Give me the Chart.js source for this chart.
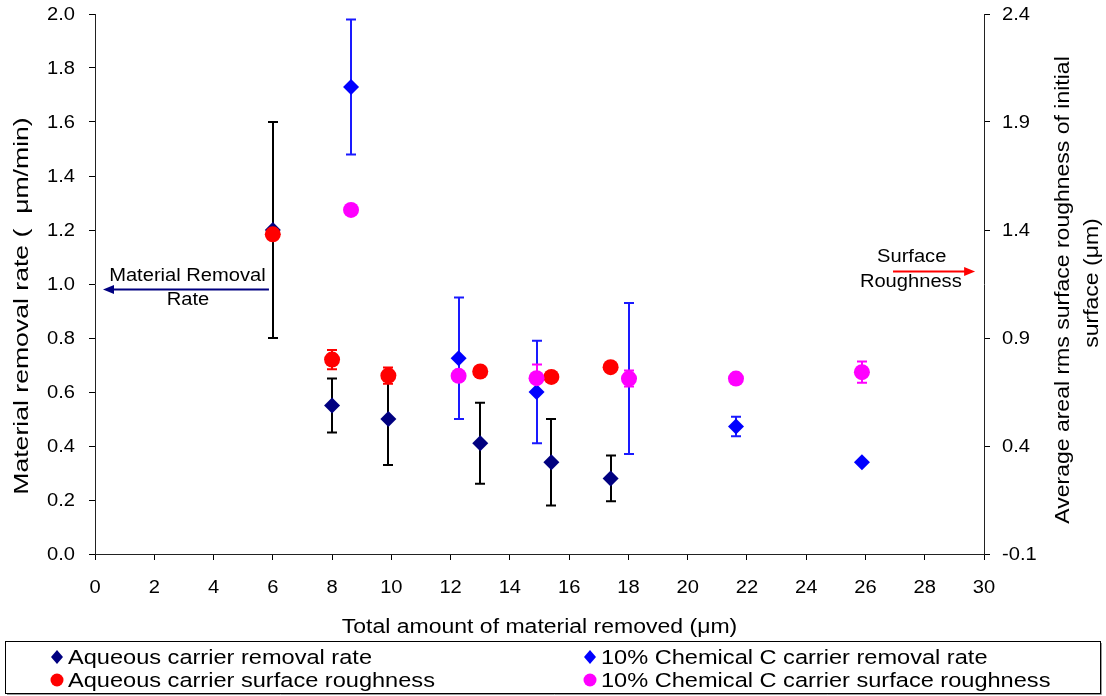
<!DOCTYPE html>
<html>
<head>
<meta charset="utf-8">
<script src="https://cdn.jsdelivr.net/npm/chart.js@4.4.0/dist/chart.umd.min.js"></script>
<style>
  html, body { margin: 0; padding: 0; background: #fff; }
</style>
</head>
<body>
<canvas id="c" width="1106" height="696"></canvas>
<script>
"use strict";

// ---------- data ----------
const X_TICKS = [0, 2, 4, 6, 8, 10, 12, 14, 16, 18, 20, 22, 24, 26, 28, 30];
const Y_TICKS = [0, 0.2, 0.4, 0.6, 0.8, 1.0, 1.2, 1.4, 1.6, 1.8, 2.0];
const Y2_TICKS = [-0.1, 0.4, 0.9, 1.4, 1.9, 2.4];

// aqueous carrier
const aqX = [6.0, 8.0, 9.9, 13.0, 15.4, 17.4];
const aqRate = [1.20, 0.55, 0.50, 0.41, 0.34, 0.28];
const aqRateErr = [0.40, 0.10, 0.17, 0.15, 0.16, 0.085];
const aqRough = [1.38, 0.80, 0.726, 0.745, 0.72, 0.765];
const aqRoughErr = [0, 0.045, 0.038, 0, 0, 0];

// 10% chemical C carrier
const chemX = [8.64, 12.27, 14.9, 18.02, 21.63, 25.88];
const chemRate = [1.73, 0.725, 0.60, 0.65, 0.472, 0.34];
const chemRateErr = [0.25, 0.225, 0.19, 0.28, 0.036, 0];
const chemRough = [1.493, 0.725, 0.714, 0.712, 0.712, 0.742];
const chemRoughErr = [0, 0, 0.063, 0.037, 0, 0.049];

const LEGEND = [
  { text: "Aqueous carrier removal rate", color: "#000080", shape: "diamond" },
  { text: "10% Chemical C carrier removal rate", color: "#0000ff", shape: "diamond" },
  { text: "Aqueous carrier surface roughness", color: "#ff0000", shape: "circle" },
  { text: "10% Chemical C carrier surface roughness", color: "#ff00ff", shape: "circle" },
];

const FONT = "Liberation Sans, Arial, sans-serif";
const SX = 1.15; // reference text is a bit wide

const pts = (xs, ys) => xs.map((x, i) => ({ x: x, y: ys[i] }));

function text(ctx, str, x, y, align, size, rot, sx) {
  ctx.save();
  ctx.translate(x, y);
  if (rot) ctx.rotate(rot);
  ctx.scale(sx || SX, 1);
  ctx.font = size + "px " + FONT;
  ctx.textAlign = align;
  ctx.textBaseline = "middle";
  ctx.fillStyle = "#000";
  ctx.fillText(str, 0, 0);
  ctx.restore();
}

function arrow(ctx, x1, x2, y, color) {
  const dir = x2 > x1 ? 1 : -1;
  ctx.save();
  ctx.strokeStyle = color;
  ctx.fillStyle = color;
  ctx.lineWidth = 2;
  ctx.beginPath();
  ctx.moveTo(x1, y);
  ctx.lineTo(x2 - dir * 8, y);
  ctx.stroke();
  ctx.beginPath();
  ctx.moveTo(x2, y);
  ctx.lineTo(x2 - dir * 11, y - 4.5);
  ctx.lineTo(x2 - dir * 11, y + 4.5);
  ctx.closePath();
  ctx.fill();
  ctx.restore();
}

// ---------- plugins ----------
const errorBars = {
  id: "errorBars",
  beforeDatasetsDraw(chart) {
    const ctx = chart.ctx;
    chart.data.datasets.forEach((ds) => {
      if (!ds.err) return;
      const xs = chart.scales.x;
      const ys = chart.scales[ds.yAxisID];
      ctx.save();
      ctx.strokeStyle = ds.errColor;
      ctx.lineWidth = 2;
      ds.data.forEach((p, i) => {
        const e = ds.err[i];
        if (!e) return;
        const px = Math.round(xs.getPixelForValue(p.x));
        const top = ys.getPixelForValue(p.y + e);
        const bot = ys.getPixelForValue(p.y - e);
        ctx.beginPath();
        ctx.moveTo(px, top); ctx.lineTo(px, bot);
        ctx.moveTo(px - 5, top); ctx.lineTo(px + 5, top);
        ctx.moveTo(px - 5, bot); ctx.lineTo(px + 5, bot);
        ctx.stroke();
      });
      ctx.restore();
    });
  },
};

const labels = {
  id: "labels",
  afterDraw(chart) {
    const ctx = chart.ctx;
    const { x, y, y2 } = chart.scales;
    const area = chart.chartArea;

    // tick labels
    Y_TICKS.forEach((v) => text(ctx, v.toFixed(1), area.left - 20, y.getPixelForValue(v) + 1, "right", 17.5));
    Y2_TICKS.forEach((v) => text(ctx, v.toFixed(1), area.right + 18, y2.getPixelForValue(v) + 1, "left", 17.5));
    X_TICKS.forEach((v) => text(ctx, String(v), x.getPixelForValue(v), area.bottom + 34, "center", 17.5));

    // axis titles
    text(ctx, "Total amount of material removed (\u03bcm)", (area.left + area.right) / 2, 627, "center", 20);
    text(ctx, "Material removal rate (  \u03bcm/min)", 22, 306, "center", 20, -Math.PI / 2, 1.33);
    text(ctx, "Average areal rms surface roughness of initial", 1063, 290, "center", 20, -Math.PI / 2);
    text(ctx, "surface (\u03bcm)", 1092, 283, "center", 20, -Math.PI / 2);

    // annotations
    arrow(ctx, x.getPixelForValue(5.87), x.getPixelForValue(0.27), y.getPixelForValue(0.98), "#000080");
    text(ctx, "Material Removal", x.getPixelForValue(3.12), y.getPixelForValue(1.03), "center", 17.5);
    text(ctx, "Rate", x.getPixelForValue(3.14), y.getPixelForValue(0.94), "center", 17.5);
    arrow(ctx, x.getPixelForValue(26.93), x.getPixelForValue(29.7), y.getPixelForValue(1.046), "#ff0000");
    text(ctx, "Surface", x.getPixelForValue(27.56), y.getPixelForValue(1.098), "center", 17.5);
    text(ctx, "Roughness", x.getPixelForValue(27.53), y.getPixelForValue(1.007), "center", 17.5);

    // legend box
    ctx.save();
    ctx.strokeStyle = "#999";
    ctx.lineWidth = 1;
    ctx.beginPath();
    ctx.moveTo(7, 694.5); ctx.lineTo(1101.5, 694.5); ctx.lineTo(1101.5, 643);
    ctx.stroke();
    ctx.strokeStyle = "#000";
    ctx.strokeRect(5.5, 641.5, 1095, 52);
    ctx.restore();

    LEGEND.forEach((item, i) => {
      const cx = i % 2 === 0 ? 57 : 590;
      const cy = i < 2 ? 657 : 680;
      ctx.save();
      ctx.fillStyle = item.color;
      ctx.beginPath();
      if (item.shape === "diamond") {
        ctx.moveTo(cx, cy - 7); ctx.lineTo(cx + 6, cy); ctx.lineTo(cx, cy + 7); ctx.lineTo(cx - 6, cy);
        ctx.closePath();
      } else {
        ctx.arc(cx, cy, 6.5, 0, Math.PI * 2);
      }
      ctx.fill();
      ctx.restore();
      text(ctx, item.text, cx + 11, cy + 1, "left", 20.5);
    });
  },
};

// ---------- chart ----------
const axisGrid = { drawOnChartArea: false, drawTicks: true, tickLength: 6, color: "#000", lineWidth: 1 };
const axisBorder = { display: true, color: "#222", width: 1 };
const fixTicks = (arr) => (s) => { s.ticks = arr.map((v) => ({ value: v })); };

new Chart(document.getElementById("c"), {
  type: "scatter",
  data: {
    datasets: [
      { label: "Aqueous carrier removal rate", data: pts(aqX, aqRate), err: aqRateErr, errColor: "#000",
        yAxisID: "y", order: 4, pointStyle: "rectRot", pointRadius: 8, backgroundColor: "#000080", borderWidth: 0 },
      { label: "10% Chemical C carrier removal rate", data: pts(chemX, chemRate), err: chemRateErr, errColor: "#1a1aff",
        yAxisID: "y", order: 3, pointStyle: "rectRot", pointRadius: 8, backgroundColor: "#0000ff", borderWidth: 0 },
      { label: "Aqueous carrier surface roughness", data: pts(aqX, aqRough), err: aqRoughErr, errColor: "#ff0000",
        yAxisID: "y2", order: 2, pointStyle: "circle", pointRadius: 8, backgroundColor: "#ff0000", borderWidth: 0 },
      { label: "10% Chemical C carrier surface roughness", data: pts(chemX, chemRough), err: chemRoughErr, errColor: "#ff00ff",
        yAxisID: "y2", order: 1, pointStyle: "circle", pointRadius: 8, backgroundColor: "#ff00ff", borderWidth: 0 },
    ],
  },
  options: {
    responsive: false,
    animation: false,
    devicePixelRatio: 1,
    layout: { padding: { top: 14, left: 0, right: 0, bottom: 0 } },
    plugins: { legend: { display: false }, tooltip: { enabled: false } },
    scales: {
      x: {
        type: "linear", position: "bottom", min: 0, max: 30,
        afterBuildTicks: fixTicks(X_TICKS),
        afterFit: (s) => { s.height = 142; },
        ticks: { display: false }, grid: axisGrid, border: axisBorder,
      },
      y: {
        type: "linear", position: "left", min: 0, max: 2.0,
        afterBuildTicks: fixTicks(Y_TICKS),
        afterFit: (s) => { s.width = 95; },
        ticks: { display: false }, grid: axisGrid, border: axisBorder,
      },
      y2: {
        type: "linear", position: "right", min: -0.1, max: 2.4,
        afterBuildTicks: fixTicks(Y2_TICKS),
        afterFit: (s) => { s.width = 122; },
        ticks: { display: false }, grid: axisGrid, border: axisBorder,
      },
    },
  },
  plugins: [errorBars, labels],
});
</script>
</body>
</html>
